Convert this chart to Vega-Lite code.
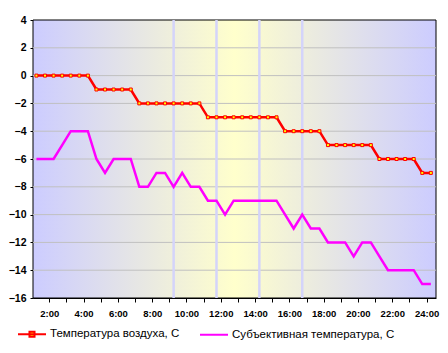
{
  "$schema": "https://vega.github.io/schema/vega-lite/v6.json",
  "width": 403,
  "height": 278,
  "autosize": {"type": "none"},
  "padding": {"left": 33, "top": 20, "right": 12, "bottom": 55},
  "background": "white",
  "config": {
    "font": "Liberation Sans",
    "view": {"stroke": null},
    "axis": {
      "labelOverlap": false, "labelFlush": false, "grid": false, "zindex": 1, "title": null,
      "labelFont": "Liberation Sans", "labelFontWeight": "bold", "labelColor": "black",
      "tickColor": "black", "domainColor": "black"
    },
    "axisX": {"labelFontSize": 9.5, "labelDx": 2.5, "labelPadding": 6, "tickSize": 4},
    "axisY": {"labelFontSize": 10.5, "labelPadding": 4, "tickSize": 3}
  },
  "data": {"values": [
    {"t": 1, "Температура воздуха, С": 0, "Субъективная температура, С": -6},
    {"t": 1.5, "Температура воздуха, С": 0, "Субъективная температура, С": -6},
    {"t": 2, "Температура воздуха, С": 0, "Субъективная температура, С": -6},
    {"t": 2.5, "Температура воздуха, С": 0, "Субъективная температура, С": -5},
    {"t": 3, "Температура воздуха, С": 0, "Субъективная температура, С": -4},
    {"t": 3.5, "Температура воздуха, С": 0, "Субъективная температура, С": -4},
    {"t": 4, "Температура воздуха, С": 0, "Субъективная температура, С": -4},
    {"t": 4.5, "Температура воздуха, С": -1, "Субъективная температура, С": -6},
    {"t": 5, "Температура воздуха, С": -1, "Субъективная температура, С": -7},
    {"t": 5.5, "Температура воздуха, С": -1, "Субъективная температура, С": -6},
    {"t": 6, "Температура воздуха, С": -1, "Субъективная температура, С": -6},
    {"t": 6.5, "Температура воздуха, С": -1, "Субъективная температура, С": -6},
    {"t": 7, "Температура воздуха, С": -2, "Субъективная температура, С": -8},
    {"t": 7.5, "Температура воздуха, С": -2, "Субъективная температура, С": -8},
    {"t": 8, "Температура воздуха, С": -2, "Субъективная температура, С": -7},
    {"t": 8.5, "Температура воздуха, С": -2, "Субъективная температура, С": -7},
    {"t": 9, "Температура воздуха, С": -2, "Субъективная температура, С": -8},
    {"t": 9.5, "Температура воздуха, С": -2, "Субъективная температура, С": -7},
    {"t": 10, "Температура воздуха, С": -2, "Субъективная температура, С": -8},
    {"t": 10.5, "Температура воздуха, С": -2, "Субъективная температура, С": -8},
    {"t": 11, "Температура воздуха, С": -3, "Субъективная температура, С": -9},
    {"t": 11.5, "Температура воздуха, С": -3, "Субъективная температура, С": -9},
    {"t": 12, "Температура воздуха, С": -3, "Субъективная температура, С": -10},
    {"t": 12.5, "Температура воздуха, С": -3, "Субъективная температура, С": -9},
    {"t": 13, "Температура воздуха, С": -3, "Субъективная температура, С": -9},
    {"t": 13.5, "Температура воздуха, С": -3, "Субъективная температура, С": -9},
    {"t": 14, "Температура воздуха, С": -3, "Субъективная температура, С": -9},
    {"t": 14.5, "Температура воздуха, С": -3, "Субъективная температура, С": -9},
    {"t": 15, "Температура воздуха, С": -3, "Субъективная температура, С": -9},
    {"t": 15.5, "Температура воздуха, С": -4, "Субъективная температура, С": -10},
    {"t": 16, "Температура воздуха, С": -4, "Субъективная температура, С": -11},
    {"t": 16.5, "Температура воздуха, С": -4, "Субъективная температура, С": -10},
    {"t": 17, "Температура воздуха, С": -4, "Субъективная температура, С": -11},
    {"t": 17.5, "Температура воздуха, С": -4, "Субъективная температура, С": -11},
    {"t": 18, "Температура воздуха, С": -5, "Субъективная температура, С": -12},
    {"t": 18.5, "Температура воздуха, С": -5, "Субъективная температура, С": -12},
    {"t": 19, "Температура воздуха, С": -5, "Субъективная температура, С": -12},
    {"t": 19.5, "Температура воздуха, С": -5, "Субъективная температура, С": -13},
    {"t": 20, "Температура воздуха, С": -5, "Субъективная температура, С": -12},
    {"t": 20.5, "Температура воздуха, С": -5, "Субъективная температура, С": -12},
    {"t": 21, "Температура воздуха, С": -6, "Субъективная температура, С": -13},
    {"t": 21.5, "Температура воздуха, С": -6, "Субъективная температура, С": -14},
    {"t": 22, "Температура воздуха, С": -6, "Субъективная температура, С": -14},
    {"t": 22.5, "Температура воздуха, С": -6, "Субъективная температура, С": -14},
    {"t": 23, "Температура воздуха, С": -6, "Субъективная температура, С": -14},
    {"t": 23.5, "Температура воздуха, С": -7, "Субъективная температура, С": -15},
    {"t": 24, "Температура воздуха, С": -7, "Субъективная температура, С": -15}
  ]},
  "transform": [
    {"fold": ["Температура воздуха, С", "Субъективная температура, С"], "as": ["series", "value"]}
  ],
  "layer": [
    {
      "data": {"values": [{"part": "background"}]},
      "mark": {
        "type": "rect",
        "stroke": "black",
        "strokeWidth": 1,
        "fill": {
          "gradient": "linear", "x1": 0, "y1": 0, "x2": 1, "y2": 0,
          "stops": [
            {"offset": 0, "color": "#ccccff"},
            {"offset": 0.5, "color": "#ffffcc"},
            {"offset": 1, "color": "#ccccff"}
          ]
        }
      },
      "encoding": {}
    },
    {
      "data": {"values": [{"g": -14}, {"g": -12}, {"g": -10}, {"g": -8}, {"g": -6}, {"g": -4}, {"g": -2}, {"g": 0}, {"g": 2}]},
      "mark": {"type": "rule", "color": "#c0c0c0", "strokeWidth": 1},
      "encoding": {
        "y": {
          "field": "g", "type": "quantitative",
          "scale": {"domain": [-16, 4], "nice": false},
          "axis": {"values": [-16, -14, -12, -10, -8, -6, -4, -2, 0, 2, 4]}
        }
      }
    },
    {
      "data": {"values": [{"h": 9}, {"h": 11.5}, {"h": 14}, {"h": 16.5}]},
      "mark": {"type": "rule", "color": "#d4d4fa", "strokeWidth": 2.5},
      "encoding": {
        "x": {
          "field": "h", "type": "quantitative",
          "scale": {"domain": [0.8, 24.3], "nice": false, "zero": false},
          "axis": {
            "values": [1.75, 2.75, 3.75, 4.75, 5.75, 6.75, 7.75, 8.75, 9.75, 10.75, 11.75, 12.75, 13.75, 14.75, 15.75, 16.75, 17.75, 18.75, 19.75, 20.75, 21.75, 22.75, 23.75],
            "labelExpr": "((datum.value + 0.25) % 2 == 0) ? (datum.value + 0.25) + ':00' : ''"
          }
        }
      }
    },
    {
      "mark": {"type": "line", "strokeWidth": 2.5},
      "encoding": {
        "x": {
          "field": "t", "type": "quantitative",
          "axis": {
            "values": [1.75, 2.75, 3.75, 4.75, 5.75, 6.75, 7.75, 8.75, 9.75, 10.75, 11.75, 12.75, 13.75, 14.75, 15.75, 16.75, 17.75, 18.75, 19.75, 20.75, 21.75, 22.75, 23.75],
            "labelExpr": "((datum.value + 0.25) % 2 == 0) ? (datum.value + 0.25) + ':00' : ''"
          }
        },
        "y": {
          "field": "value", "type": "quantitative",
          "axis": {"values": [-16, -14, -12, -10, -8, -6, -4, -2, 0, 2, 4]}
        },
        "color": {
          "field": "series", "type": "nominal",
          "scale": {"domain": ["Температура воздуха, С", "Субъективная температура, С"], "range": ["#ff0000", "#ff00ff"]},
          "legend": {
            "title": null, "orient": "none", "legendX": -16, "legendY": 299,
            "direction": "horizontal", "symbolType": "stroke", "symbolSize": 784,
            "symbolStrokeWidth": 2, "symbolFillColor": "#ffff00",
            "labelFont": "Liberation Sans", "labelFontSize": 11.5, "labelLimit": 0,
            "labelColor": "black", "labelOffset": 3, "columnPadding": 16,
            "encode": {
              "symbols": {
                "update": {
                  "shape": {"signal": "datum.value === 'Температура воздуха, С' ? 'M-1,0H1M-0.18,-0.18H0.18V0.18H-0.18Z' : 'stroke'"},
                  "fill": {"value": "#ffff00"}
                }
              }
            }
          }
        }
      }
    },
    {
      "transform": [{"filter": "datum.series === 'Температура воздуха, С'"}],
      "mark": {"type": "point", "shape": "square", "filled": true, "size": 9, "fill": "#ffff00", "stroke": "#ff0000", "strokeWidth": 1, "opacity": 1},
      "encoding": {
        "x": {
          "field": "t", "type": "quantitative",
          "axis": {
            "values": [1.75, 2.75, 3.75, 4.75, 5.75, 6.75, 7.75, 8.75, 9.75, 10.75, 11.75, 12.75, 13.75, 14.75, 15.75, 16.75, 17.75, 18.75, 19.75, 20.75, 21.75, 22.75, 23.75],
            "labelExpr": "((datum.value + 0.25) % 2 == 0) ? (datum.value + 0.25) + ':00' : ''"
          }
        },
        "y": {
          "field": "value", "type": "quantitative",
          "axis": {"values": [-16, -14, -12, -10, -8, -6, -4, -2, 0, 2, 4]}
        }
      }
    }
  ]
}
